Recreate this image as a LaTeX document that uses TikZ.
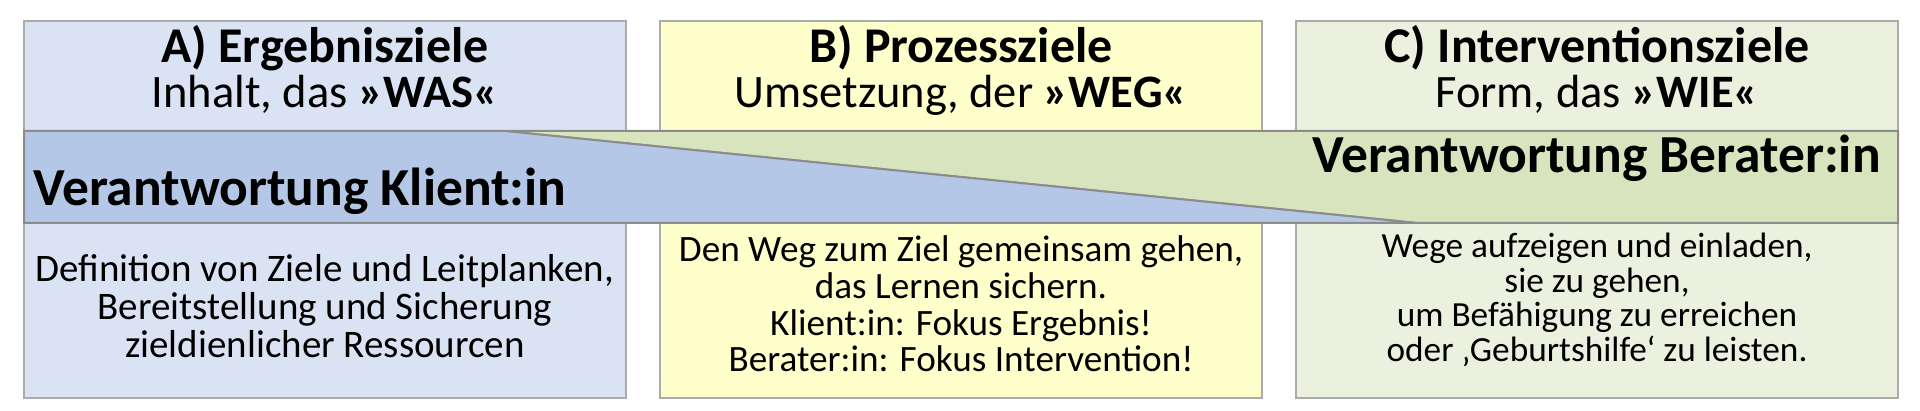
\documentclass[tikz,border=0pt]{standalone}
\usepackage{fontspec}
\setmainfont{Carlito}
\usetikzlibrary{positioning}
\definecolor{blauHell}{HTML}{DAE3F3}
\definecolor{blauBand}{HTML}{B4C7E7}
\definecolor{gelbHell}{HTML}{FFFFCC}
\definecolor{gruenHell}{HTML}{EBF1DE}
\definecolor{gruenBand}{HTML}{D7E4BD}
\definecolor{rahmen}{HTML}{ABABAB}
\definecolor{bandrand}{HTML}{8C8C8C}

\begin{document}
\begin{tikzpicture}[x=1pt, y=-1pt]
    \tikzstyle{zielbox}=[
        draw = rahmen,
        line width = 2pt,
        minimum width = 602pt,
        minimum height = 377pt,
        inner sep = 0pt,
        outer sep = 0pt
    ]
    \tikzstyle{titel}=[anchor=base, inner sep=0pt, font=\fontsize{50}{50}\selectfont\bfseries]
    \tikzstyle{untertitel}=[anchor=base, inner sep=0pt, font=\fontsize{46.5}{46.5}\selectfont]
    \tikzstyle{band}=[draw=bandrand, line width=2pt]
    \tikzstyle{bandtext}=[inner sep=0pt, font=\fontsize{53.5}{53.5}\selectfont\bfseries]
    \tikzstyle{inhalt}=[anchor=base, inner sep=0pt, align=center]
    \useasboundingbox (0,0) rectangle (1920,411);
    \begin{scope}[node distance=34pt, every node/.style=zielbox]
      \node (A) [fill=blauHell] at (325,209.5) {};
      \node (B) [fill=gelbHell, right=of A] {};
      \node (C) [fill=gruenHell, right=of B] {};
    \end{scope}
    \node[titel] (tA) at ([yshift=-42pt]A.north) {A) Ergebnisziele};
    \node[titel] (tB) at ([yshift=-42pt]B.north) {B) Prozessziele};
    \node[titel] (tC) at ([yshift=-42pt]C.north) {C) Interventionsziele};
    \node[untertitel] (uA) at ([yshift=-87pt]A.north) {Inhalt, das \textbf{»WAS«}};
    \node[untertitel] (uB) at ([yshift=-87pt]B.north) {Umsetzung, der \textbf{»WEG«}};
    \node[untertitel] (uC) at ([yshift=-87pt]C.north) {Form, das \textbf{»WIE«}};
    \coordinate (knick) at (505,131);
    \coordinate (spitze) at (1417,223);
    \filldraw[band, fill=gruenBand] (knick) -- (1898,131) -- (1898,223) -- (spitze) -- cycle;
    \filldraw[band, fill=blauBand] (24,131) -- (knick) -- (spitze) -- (24,223) -- cycle;
    \node[bandtext, anchor=base west] (vK) at (33,206) {Verantwortung Klient:in};
    \node[bandtext, anchor=base east] (vB) at (1881,173) {Verantwortung Berater:in};
    \node[inhalt, font=\fontsize{39}{38}\selectfont] (iA) at ([yshift=-337pt]A.north)
      {Definition von Ziele und Leitplanken,\\ Bereitstellung und Sicherung\\ zieldienlicher Ressourcen};
    \node[inhalt, font=\fontsize{37.2}{36.7}\selectfont] (iB) at ([yshift=-351pt]B.north)
      {Den Weg zum Ziel gemeinsam gehen,\\ das Lernen sichern.\\ Klient:in: Fokus Ergebnis!\\ Berater:in: Fokus Intervention!};
    \node[inhalt, font=\fontsize{35.3}{34.5}\selectfont] (iC) at ([yshift=-340.5pt]C.north)
      {Wege aufzeigen und einladen,\\ sie zu gehen,\\ um Befähigung zu erreichen\\ oder ‚Geburtshilfe‘ zu leisten.};
\end{tikzpicture}
\end{document}
